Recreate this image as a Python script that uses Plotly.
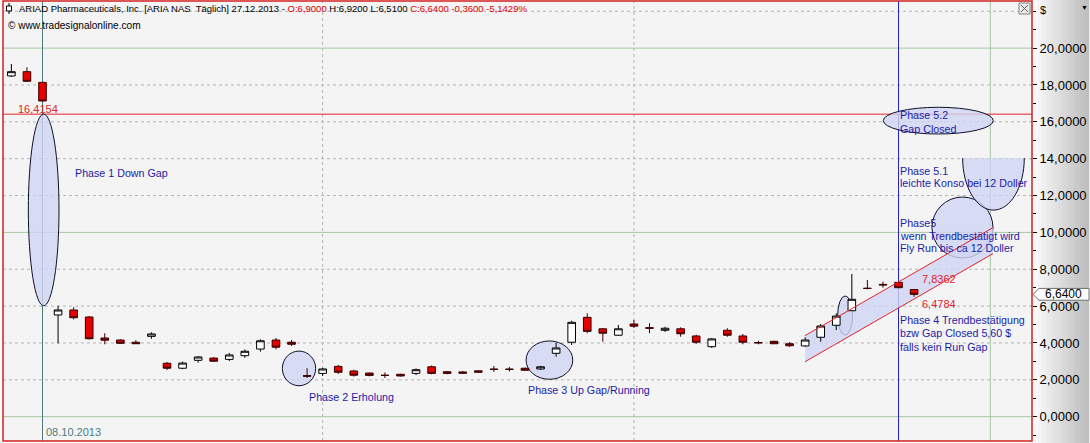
import plotly.graph_objects as go

# ---------------- data ----------------
dates = ["04.10.2013", "07.10.2013", "08.10.2013", "09.10.2013", "10.10.2013", "11.10.2013",
         "14.10.2013", "15.10.2013", "16.10.2013", "17.10.2013", "18.10.2013", "21.10.2013",
         "22.10.2013", "23.10.2013", "24.10.2013", "25.10.2013", "28.10.2013", "29.10.2013",
         "30.10.2013", "31.10.2013", "01.11.2013", "04.11.2013", "05.11.2013", "06.11.2013",
         "07.11.2013", "08.11.2013", "11.11.2013", "12.11.2013", "13.11.2013", "14.11.2013",
         "15.11.2013", "18.11.2013", "19.11.2013", "20.11.2013", "21.11.2013", "22.11.2013",
         "25.11.2013", "26.11.2013", "27.11.2013", "29.11.2013", "02.12.2013", "03.12.2013",
         "04.12.2013", "05.12.2013", "06.12.2013", "09.12.2013", "10.12.2013", "11.12.2013",
         "12.12.2013", "13.12.2013", "16.12.2013", "17.12.2013", "18.12.2013", "19.12.2013",
         "20.12.2013", "23.12.2013", "24.12.2013", "26.12.2013", "27.12.2013"]

opens = [18.49, 18.72, 18.14, 5.52, 5.79, 5.41, 4.27, 4.16, 4.04, 4.36,
         2.90, 2.63, 3.06, 3.18, 3.11, 3.31, 3.67, 4.16, 4.04, 2.23,
         2.35, 2.73, 2.48, 2.37, 2.25, 2.30, 2.35, 2.71, 2.44, 2.43,
         2.49, 2.58, 2.58, 2.63, 2.59, 3.44, 4.04, 5.39, 4.77, 4.42,
         5.03, 4.83, 4.69, 4.77, 4.38, 3.80, 4.69, 4.38, 4.02, 4.09,
         3.96, 3.84, 4.31, 4.96, 5.75, 6.97, 7.18, 7.29, 6.90]
highs = [19.14, 18.96, 18.17, 6.02, 5.94, 5.46, 4.53, 4.20, 4.15, 4.58,
         2.97, 2.99, 3.29, 3.24, 3.46, 3.65, 4.20, 4.27, 4.16, 2.63,
         2.65, 2.81, 2.55, 2.40, 2.40, 2.33, 2.62, 2.78, 2.48, 2.47,
         2.52, 2.75, 2.70, 2.66, 2.76, 4.02, 5.21, 5.61, 4.80, 4.98,
         5.25, 5.07, 4.88, 4.85, 4.45, 4.27, 4.80, 4.49, 4.12, 4.12,
         4.05, 4.31, 5.03, 5.61, 7.74, 7.42, 7.33, 7.32, 6.92]
lows = [18.43, 18.16, 17.10, 3.98, 5.28, 4.19, 3.93, 3.96, 3.95, 4.23,
        2.53, 2.58, 2.93, 2.97, 3.02, 3.19, 3.53, 3.65, 3.84, 2.10,
        2.21, 2.32, 2.18, 2.19, 2.10, 2.18, 2.26, 2.30, 2.30, 2.32,
        2.38, 2.43, 2.45, 2.50, 2.54, 3.26, 3.89, 4.53, 4.07, 4.38,
        4.81, 4.53, 4.60, 4.34, 3.95, 3.73, 4.34, 3.93, 3.93, 3.94,
        3.79, 3.80, 4.07, 4.70, 5.74, 6.91, 7.00, 6.98, 6.51]
closes = [18.72, 18.20, 17.13, 5.79, 5.37, 4.23, 4.15, 3.98, 3.96, 4.49,
          2.63, 2.91, 3.24, 3.01, 3.35, 3.55, 4.12, 3.77, 3.93, 2.20,
          2.59, 2.41, 2.25, 2.24, 2.24, 2.21, 2.55, 2.35, 2.35, 2.36,
          2.41, 2.57, 2.57, 2.52, 2.71, 3.73, 5.12, 4.63, 4.53, 4.77,
          4.91, 4.80, 4.80, 4.50, 4.04, 4.22, 4.42, 4.04, 4.01, 3.96,
          3.85, 4.16, 4.92, 5.46, 6.37, 6.96, 7.15, 7.00, 6.64]

ytick_vals = [0, 2, 4, 6, 8, 10, 12, 14, 16, 18, 20]
ytick_text = ["0,0000", "2,0000", "4,0000", "6,0000", "8,0000", "10,0000",
              "12,0000", "14,0000", "16,0000", "18,0000", "20,0000"]

gap_level = 16.4154
last_close = 6.64
bar_idx = list(range(len(dates)))

# ---------------- layout helpers ----------------
W, H = 1090, 443
LM, RM, TM, BM = 3, 58, 1, 2
PW = W - LM - RM
PH = H - TM - BM


def px(X):
    return (X - LM) / PW


def py(Y):
    return (H - BM - Y) / PH


RED = "#e0242a"
BLUE_TXT = "#1c1ca8"
LAV = "rgba(208,212,242,0.8)"
OUTL = "#10102a"
FONT = "Liberation Sans"
TS = 10.7

fig = go.Figure()
fig.add_trace(go.Candlestick(
    x=bar_idx, open=opens, high=highs, low=lows, close=closes,
    text=dates, hoverinfo="text+y",
    increasing=dict(line=dict(color="#000000", width=1), fillcolor="#ffffff"),
    decreasing=dict(line=dict(color="#3a0000", width=1), fillcolor="#e60000"),
    whiskerwidth=0, showlegend=False,
))

shapes = []

# right axis panel gradient
n_strip = 19
for k in range(n_strip):
    x0 = 1032 + k * 3
    g = int(252 - (252 - 190) * k / (n_strip - 1))
    col = f"rgb({g},{g},{g})"
    shapes.append(dict(type="rect", xref="paper", yref="paper",
                       x0=px(x0), x1=px(x0 + 3.2), y0=py(443), y1=py(0),
                       fillcolor=col, line=dict(width=0), layer="below"))

# dotted horizontal grid
for v in [2, 4, 6, 8, 12, 14, 16, 18, 22]:
    shapes.append(dict(type="line", xref="paper", yref="y", x0=0, x1=1, y0=v, y1=v,
                       line=dict(color="#b4b4b4", width=1, dash="dot"), layer="below"))
# solid major grid
for v in [0, 10, 20]:
    shapes.append(dict(type="line", xref="paper", yref="y", x0=0, x1=1, y0=v, y1=v,
                       line=dict(color="#a6c6a6", width=1), layer="below"))
# month dotted verticals
for xv in [20, 40]:
    shapes.append(dict(type="line", xref="x", yref="paper", x0=xv, x1=xv, y0=0, y1=1,
                       line=dict(color="#b4b4b4", width=1, dash="dot"), layer="below"))
shapes.append(dict(type="line", xref="x", yref="paper", x0=62.9, x1=62.9, y0=0, y1=1,
                   line=dict(color="#a6c6a6", width=1), layer="below"))

# ellipses (phase markers)
def ell(x0, x1, y0, y1):
    return dict(type="circle", xref="x", yref="y", x0=x0, x1=x1, y0=y0, y1=y1,
                fillcolor=LAV, line=dict(color=OUTL, width=1), layer="below")


shapes.append(ell(1.09, 3.06, 6.02, 16.42))      # Phase 1
shapes.append(ell(17.41, 19.55, 1.68, 3.56))     # Phase 2
shapes.append(ell(33.07, 36.07, 2.03, 4.11))     # Phase 3
shapes.append(ell(53.09, 54.05, 4.43, 6.55))     # Phase 4
shapes.append(ell(59.15, 63.07, 8.61, 11.92))    # Phase 5
shapes.append(ell(56.02, 63.09, 15.34, 16.79))   # Phase 5.2
# Phase 5.1 half ellipse (open at top)
cx, cy, rx, ry, kk = 63.10, 14.03, 1.98, 2.82, 0.5523
shapes.append(dict(type="path", xref="x", yref="y",
                   path=(f"M {cx-rx},{cy} C {cx-rx},{cy-kk*ry} {cx-kk*rx},{cy-ry} {cx},{cy-ry} "
                         f"C {cx+kk*rx},{cy-ry} {cx+rx},{cy-kk*ry} {cx+rx},{cy}"),
                   fillcolor=LAV, line=dict(color=OUTL, width=1), layer="below"))

# trend channel
ux0, uy0, ux1, uy1 = 50.99, 4.40, 63.07, 10.26
lx0, ly0, lx1, ly1 = 50.99, 2.98, 63.07, 8.85
shapes.append(dict(type="path", xref="x", yref="y",
                   path=f"M {ux0},{uy0} L {ux1},{uy1} L {lx1},{ly1} L {lx0},{ly0} Z",
                   fillcolor=LAV, line=dict(width=0), layer="below"))
for (a, b, c, d) in [(ux0, uy0, ux1, uy1), (lx0, ly0, lx1, ly1)]:
    shapes.append(dict(type="line", xref="x", yref="y", x0=a, y0=b, x1=c, y1=d,
                       line=dict(color=RED, width=1), layer="above"))

# marker lines
shapes.append(dict(type="line", xref="x", yref="paper", x0=2, x1=2, y0=0, y1=1,
                   line=dict(color="#4e7c7c", width=1), layer="below"))
shapes.append(dict(type="line", xref="x", yref="paper", x0=57, x1=57, y0=0, y1=1,
                   line=dict(color="#2424c8", width=1), layer="below"))
shapes.append(dict(type="line", xref="paper", yref="y", x0=0, x1=1, y0=gap_level, y1=gap_level,
                   line=dict(color=RED, width=1), layer="below"))

# frame
shapes.append(dict(type="rect", xref="paper", yref="paper", x0=0, x1=1, y0=0, y1=1,
                   line=dict(color="#d42020", width=1.5), fillcolor="rgba(0,0,0,0)", layer="above"))

# close button top right
shapes.append(dict(type="rect", xref="paper", yref="paper", x0=px(1019), x1=px(1030),
                   y0=py(14), y1=py(3), line=dict(color="#808080", width=1),
                   fillcolor="#ececec", layer="above"))
shapes.append(dict(type="line", xref="paper", yref="paper", x0=px(1021), x1=px(1028),
                   y0=py(12), y1=py(5), line=dict(color="#606060", width=1), layer="above"))
shapes.append(dict(type="line", xref="paper", yref="paper", x0=px(1021), x1=px(1028),
                   y0=py(5), y1=py(12), line=dict(color="#606060", width=1), layer="above"))

# header icon
shapes.append(dict(type="line", xref="paper", yref="paper", x0=px(9), x1=px(9),
                   y0=py(14), y1=py(3), line=dict(color="#000", width=1), layer="above"))
shapes.append(dict(type="rect", xref="paper", yref="paper", x0=px(6.5), x1=px(11.5),
                   y0=py(11), y1=py(6), line=dict(color="#000", width=1),
                   fillcolor="#ffffff", layer="above"))

# last price marker on the axis
shapes.append(dict(type="path", xref="paper", yref="y",
                   path=(f"M {px(1033)},{last_close} L {px(1039)},{last_close+0.32} "
                         f"L {px(1089)},{last_close+0.32} L {px(1089)},{last_close-0.32} "
                         f"L {px(1039)},{last_close-0.32} Z"),
                   fillcolor="#ffffff", line=dict(color="#707070", width=1), layer="above"))

annotations = []


def txt(x, y, s, color=BLUE_TXT, size=TS, xanchor="left", xref="x", yref="y", xshift=0):
    annotations.append(dict(x=x, y=y, xref=xref, yref=yref, text=s, showarrow=False,
                            xanchor=xanchor, yanchor="middle", xshift=xshift,
                            font=dict(family=FONT, size=size, color=color)))


txt(1.74, 16.70, "16,4154", color=RED, size=11, xanchor="center")
txt(3.97, 13.21, "Phase 1 Down Gap")
txt(19.0, 1.05, "Phase 2 Erholung")
txt(33.05, 1.45, "Phase 3 Up Gap/Running")
txt(58.36, 7.47, "7,8362", color=RED, size=11)
txt(58.36, 6.10, "6,4784", color=RED, size=11)
tx = 57.0
for yv, s in [(5.23, "Phase 4 Trendbestätigung"), (4.56, "bzw Gap Closed 5,60 $"),
              (3.80, "falls kein Run Gap")]:
    txt(tx, yv, s, xshift=-1)
for yv, s in [(10.53, "Phase5"), (9.80, "wenn Trendbestätigt wird"),
              (9.17, "Fly Run bis ca 12 Doller")]:
    txt(tx, yv, s, xshift=-1)
for yv, s in [(13.35, "Phase 5.1"), (12.66, "leichte Konso bei 12 Doller")]:
    txt(tx, yv, s, xshift=-1)
for yv, s in [(16.37, "Phase 5.2"), (15.61, "Gap Closed")]:
    txt(tx, yv, s, xshift=-1)

# date label
annotations.append(dict(x=2, y=py(432), xref="x", yref="paper", text=dates[2],
                        showarrow=False, xanchor="left", yanchor="middle", xshift=1,
                        font=dict(family=FONT, size=11, color="#4e7c7c")))

# header
header = ("ARIAD Pharmaceuticals, Inc. [ARIA NAS\u00a0 Täglich] 27.12.2013 - "
          "<span style='color:#e00000'>O:6,9000</span> H:6,9200 L:6,5100 "
          "<span style='color:#e00000'>C:6,6400 -0,3600 -5,1429%</span>")
txt(px(17), py(8.5), header, color="#000000", size=9.5, xref="paper", yref="paper")
txt(px(6), py(25.5), "© www.tradesignalonline.com", color="#000000", size=10.1,
    xref="paper", yref="paper")

# axis extras
txt(px(1038), py(10), "$", color="#000000", size=11, xref="paper", yref="paper")
txt(px(1084), py(8), "▼", color="#000000", size=7, xanchor="center", xref="paper", yref="paper")
txt(px(1063), last_close, "6,6400", color="#000000", size=12, xanchor="center",
    xref="paper", yref="y")

fig.update_layout(
    width=W, height=H,
    margin=dict(l=LM, r=RM, t=TM, b=BM, pad=0),
    paper_bgcolor="#ffffff",
    plot_bgcolor="#f4f4f4",
    showlegend=False,
    shapes=shapes,
    annotations=annotations,
    xaxis=dict(range=[-0.538, 65.576], showgrid=False, zeroline=False, showticklabels=False,
               ticks="", showline=False, rangeslider=dict(visible=False), fixedrange=True),
    yaxis=dict(range=[-1.3185, 22.556], side="right", tickvals=ytick_vals, ticktext=ytick_text,
               ticks="outside", ticklen=4, tickcolor="#000000", tickwidth=1,
               tickfont=dict(family=FONT, size=13, color="#000000"),
               showgrid=False, zeroline=False, showline=False, fixedrange=True,
               minor=dict(ticks="outside", ticklen=3, dtick=1, tickcolor="#000000",
                          showgrid=False)),
    font=dict(family=FONT),
)

fig.write_html("out.html", config={"displayModeBar": False},
               post_script="document.body.style.margin='0';document.body.style.overflow='hidden';")
